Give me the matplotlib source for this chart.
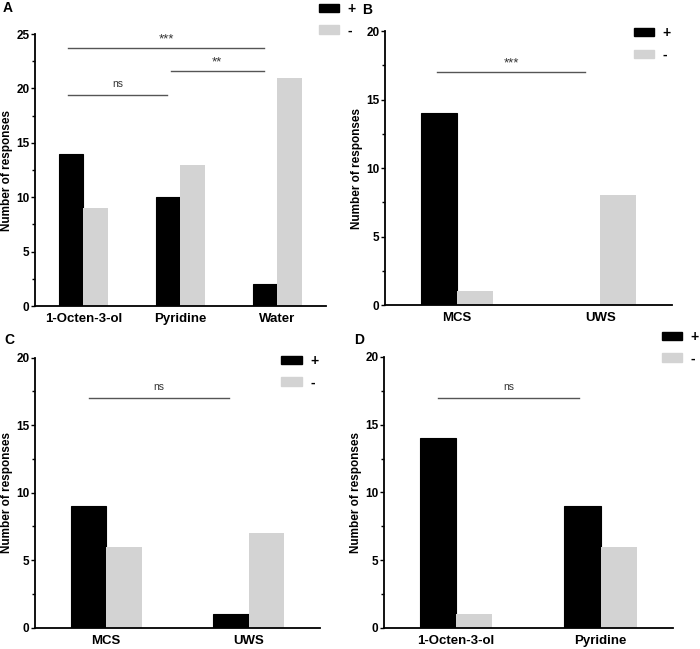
import numpy as np
import matplotlib
matplotlib.use("Agg")
import matplotlib.pyplot as plt
from matplotlib.patches import Patch
from matplotlib.ticker import MultipleLocator

plt.rcParams['font.family'] = ['Liberation Sans', 'DejaVu Sans']
plt.rcParams['font.weight'] = 'bold'

# panel data
cats_a = ['1-Octen-3-ol', 'Pyridine', 'Water']
pos_a = [14, 10, 2]
neg_a = [9, 13, 21]

cats_b = ['MCS', 'UWS']
pos_b = [14, 0]
neg_b = [1, 8]

cats_c = ['MCS', 'UWS']
pos_c = [9, 1]
neg_c = [6, 7]

cats_d = ['1-Octen-3-ol', 'Pyridine']
pos_d = [14, 9]
neg_d = [1, 6]

# significance bars: (x0, x1, y, label)
sig_a = [(-0.155, 1.856, 23.7, '***'), (0.897, 1.856, 21.6, '**'), (-0.155, 0.866, 19.4, 'ns')]
sig_b = [(-0.14, 0.896, 17.0, '***')]
sig_c = [(-0.12, 0.86, 17.0, 'ns')]
sig_d = [(-0.125, 0.85, 17.0, 'ns')]

BLACK = '#000000'
GRAY = '#d3d3d3'
SIGC = '#555555'

fig = plt.figure(figsize=(7, 6.49), dpi=100)


def panel(rect, cats, pos, neg, ymax, sigs, letter, letter_xy, leg_xy):
    ax = fig.add_axes(rect)
    x = np.arange(len(cats))
    w = 0.25
    ax.bar(x - w / 2, pos, w, color=BLACK, edgecolor=BLACK, linewidth=0.8)
    ax.bar(x + w / 2, neg, w, color=GRAY, linewidth=0)
    ax.set_xlim(-0.5, len(cats) - 0.5)
    ax.set_ylim(0, ymax)
    ax.set_xticks(x)
    ax.set_xticklabels(cats, fontsize=9.5, fontweight='bold')
    ax.tick_params(axis='x', length=0, pad=5)
    ax.yaxis.set_major_locator(MultipleLocator(5))
    ax.yaxis.set_minor_locator(MultipleLocator(2.5))
    ax.tick_params(axis='y', which='major', length=3, width=1, labelsize=8.5, pad=1)
    ax.tick_params(axis='y', which='minor', length=2, width=1)
    for t in ax.get_yticklabels():
        t.set_fontweight('bold')
    for s in ['top', 'right']:
        ax.spines[s].set_visible(False)
    for s in ['left', 'bottom']:
        ax.spines[s].set_linewidth(1.3)
    ax.set_ylabel('Number of responses', fontsize=8.5, fontweight='bold', labelpad=2)
    for x0, x1, y, lab in sigs:
        ax.plot([x0, x1], [y, y], color=SIGC, linewidth=1, clip_on=False)
        fs = 7.5 if lab == 'ns' else 9.5
        off = 0.022 if lab == 'ns' else 0.01
        ax.text((x0 + x1) / 2, y + ymax * off, lab, ha='center', va='bottom',
                fontsize=fs, fontweight='normal', color='#333333')
    fig.text(letter_xy[0], letter_xy[1], letter, fontsize=10, fontweight='bold',
             ha='left', va='top')
    handles = [Patch(facecolor=BLACK, edgecolor=BLACK), Patch(facecolor=GRAY, edgecolor=GRAY)]
    ax.legend(handles, ['+', '-'], loc='upper left', bbox_to_anchor=leg_xy,
              bbox_transform=fig.transFigure, frameon=False, borderpad=0,
              borderaxespad=0, handlelength=1.5, handleheight=0.55,
              labelspacing=0.55, handletextpad=0.6,
              prop={'weight': 'bold', 'size': 10})
    return ax


panel([0.05, 0.5285, 0.4157, 0.4191], cats_a, pos_a, neg_a, 25, sig_a,
      'A', (0.004, 0.998), (0.455, 0.997))
panel([0.55, 0.530, 0.41, 0.4222], cats_b, pos_b, neg_b, 20, sig_b,
      'B', (0.517, 0.995), (0.905, 0.96))
panel([0.05, 0.0328, 0.407, 0.416], cats_c, pos_c, neg_c, 20, sig_c,
      'C', (0.006, 0.487), (0.402, 0.455))
panel([0.5486, 0.0324, 0.4124, 0.4176], cats_d, pos_d, neg_d, 20, sig_d,
      'D', (0.506, 0.487), (0.945, 0.492))

fig.savefig('out.png', dpi=100)
